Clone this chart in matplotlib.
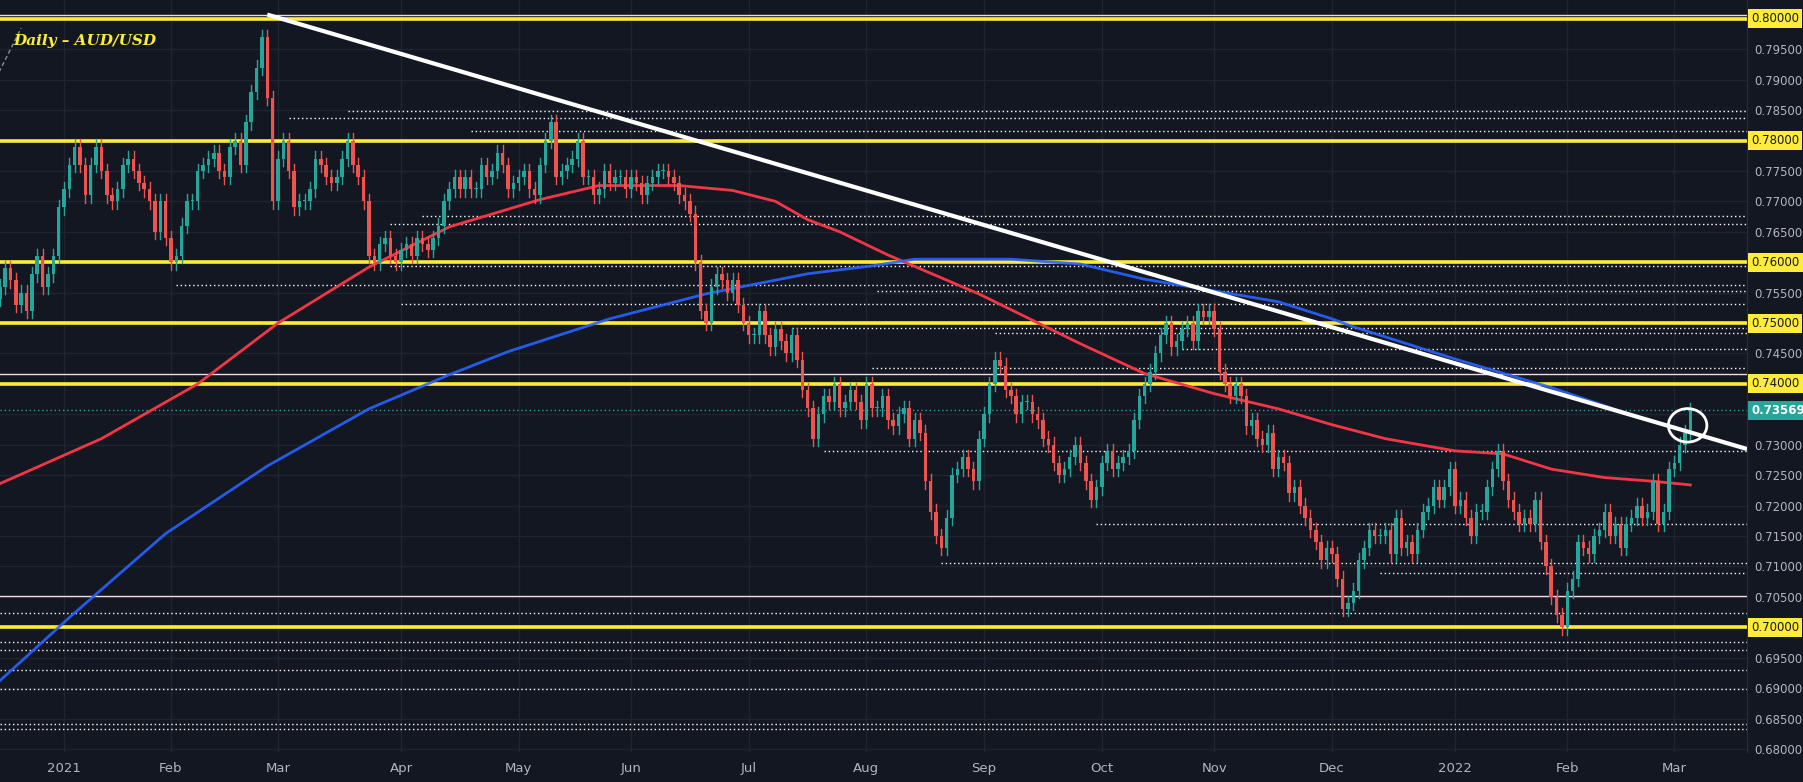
import numpy as np
import pandas as pd
import matplotlib
matplotlib.use("Agg")
import matplotlib.pyplot as plt
from matplotlib.patches import Ellipse

# ---------------- data ----------------
holidays = ["2020-12-25", "2021-01-01"]
dec20 = [0.7560, 0.7590, 0.7570, 0.7530, 0.7550, 0.7520, 0.7580, 0.7610, 0.7560, 0.7580, 0.7610, 0.7690]
jan21 = [0.7720, 0.7760, 0.7790, 0.7760, 0.7710, 0.7760, 0.7790, 0.7750, 0.7710, 0.7700,
         0.7720, 0.7760, 0.7770, 0.7750, 0.7730, 0.7720, 0.7700, 0.7650, 0.7700, 0.7640]
feb21 = [0.7600, 0.7610, 0.7660, 0.7700, 0.7700, 0.7750, 0.7760, 0.7770, 0.7780, 0.7750,
         0.7740, 0.7790, 0.7800, 0.7760, 0.7830, 0.7880, 0.7920, 0.7970, 0.7870, 0.7700]
mar21 = [0.7770, 0.7800, 0.7750, 0.7690, 0.7700, 0.7700, 0.7720, 0.7770, 0.7760, 0.7740, 0.7730, 0.7740,
         0.7770, 0.7800, 0.7760, 0.7740, 0.7700, 0.7610, 0.7600, 0.7630, 0.7640, 0.7610, 0.7600]
apr21 = [0.7620, 0.7630, 0.7610, 0.7640, 0.7630, 0.7620, 0.7640, 0.7660, 0.7700, 0.7720, 0.7740,
         0.7720, 0.7740, 0.7720, 0.7720, 0.7760, 0.7740, 0.7750, 0.7780, 0.7760, 0.7720, 0.7730]
may21 = [0.7740, 0.7750, 0.7720, 0.7710, 0.7760, 0.7800, 0.7830, 0.7740, 0.7750, 0.7760, 0.7770,
         0.7800, 0.7740, 0.7740, 0.7710, 0.7720, 0.7750, 0.7730, 0.7740, 0.7740, 0.7720]
jun21 = [0.7740, 0.7730, 0.7710, 0.7730, 0.7740, 0.7750, 0.7750, 0.7740, 0.7730, 0.7710, 0.7700,
         0.7680, 0.7600, 0.7520, 0.7500, 0.7560, 0.7580, 0.7570, 0.7550, 0.7570, 0.7530, 0.7500]
jul21 = [0.7480, 0.7480, 0.7520, 0.7480, 0.7460, 0.7490, 0.7470, 0.7450, 0.7480, 0.7440, 0.7390,
         0.7360, 0.7310, 0.7350, 0.7380, 0.7370, 0.7400, 0.7360, 0.7370, 0.7390, 0.7370, 0.7340]
aug21 = [0.7400, 0.7360, 0.7360, 0.7380, 0.7340, 0.7330, 0.7350, 0.7360, 0.7310, 0.7340, 0.7320,
         0.7240, 0.7190, 0.7150, 0.7130, 0.7180, 0.7250, 0.7260, 0.7280, 0.7260, 0.7240, 0.7310]
sep21 = [0.7350, 0.7400, 0.7440, 0.7430, 0.7390, 0.7380, 0.7350, 0.7370, 0.7370, 0.7350, 0.7340,
         0.7310, 0.7300, 0.7270, 0.7250, 0.7260, 0.7280, 0.7300, 0.7270, 0.7240, 0.7210, 0.7230]
oct21 = [0.7270, 0.7290, 0.7260, 0.7270, 0.7280, 0.7290, 0.7340, 0.7380, 0.7400, 0.7420, 0.7450,
         0.7480, 0.7500, 0.7460, 0.7470, 0.7490, 0.7500, 0.7470, 0.7520, 0.7510, 0.7520]
nov21 = [0.7490, 0.7420, 0.7400, 0.7380, 0.7400, 0.7380, 0.7330, 0.7340, 0.7310, 0.7300, 0.7320,
         0.7260, 0.7280, 0.7270, 0.7220, 0.7230, 0.7200, 0.7180, 0.7160, 0.7140, 0.7110, 0.7130]
dec21 = [0.7120, 0.7080, 0.7030, 0.7040, 0.7060, 0.7110, 0.7130, 0.7160, 0.7150, 0.7150, 0.7160, 0.7120,
         0.7180, 0.7130, 0.7140, 0.7120, 0.7160, 0.7190, 0.7200, 0.7230, 0.7210, 0.7230, 0.7260]
jan22 = [0.7200, 0.7210, 0.7180, 0.7150, 0.7190, 0.7190, 0.7230, 0.7260, 0.7290, 0.7240, 0.7210,
         0.7190, 0.7170, 0.7180, 0.7170, 0.7210, 0.7140, 0.7100, 0.7050, 0.7020, 0.7000]
feb22 = [0.7060, 0.7080, 0.7140, 0.7130, 0.7120, 0.7150, 0.7160, 0.7190, 0.7150, 0.7170,
         0.7130, 0.7170, 0.7180, 0.7200, 0.7180, 0.7190, 0.7240, 0.7170, 0.7190, 0.7260]
mar22 = [0.7270, 0.7300, 0.7320, 0.73569]
first_open = 0.7540

# moving averages (bar index, value)
ma_red_bars = [0, 19, 37, 52, 69, 84, 101, 112, 127, 137, 145, 151, 157, 166, 183, 202, 214, 227, 239, 249, 259, 272, 281, 290, 300, 309, 316]
ma_red_vals = [0.7236, 0.7310, 0.7400, 0.7500, 0.7592, 0.7658, 0.7703, 0.7726, 0.7726, 0.7718, 0.7700, 0.7670, 0.7650,
               0.7612, 0.7548, 0.7466, 0.7417, 0.7384, 0.7359, 0.7333, 0.7310, 0.7290, 0.7285, 0.7260, 0.7246, 0.7240, 0.7234]
ma_blue_bars = [0, 13, 31, 50, 69, 84, 95, 114, 132, 151, 163, 171, 189, 202, 214, 227, 239, 249, 253, 272, 290, 303, 306]
ma_blue_vals = [0.6912, 0.7016, 0.7154, 0.7265, 0.7359, 0.7415, 0.7453, 0.7507, 0.7548, 0.7581, 0.7594, 0.7605, 0.7605,
                0.7597, 0.7572, 0.7553, 0.7535, 0.7507, 0.7494, 0.7441, 0.7394, 0.7355, 0.7345]
trend_bars = [50, 326.6]
trend_vals = [0.8007, 0.7293]

yellow_levels = [0.80, 0.78, 0.76, 0.75, 0.74, 0.70]
thin_levels = [0.8006, 0.7417, 0.7052]
dotted_levels = [0.7849, 0.7837, 0.7816, 0.7676, 0.7663, 0.7594, 0.7563, 0.7553, 0.7532, 0.7492, 0.7484,
                 0.7458, 0.7426, 0.7290, 0.7169, 0.7106, 0.7090, 0.7024, 0.6976, 0.6963, 0.6930, 0.6899, 0.6841, 0.6832]
dotted_start = [65, 54, 88, 79, 73, 73, 33, 164, 75, 148, 186, 221, 163, 154, 205, 176, 258, 0, 0, 0, 0, 0, 0, 0]
last_price = 0.73569

# ---------------- build ----------------
closes = np.array(dec20 + jan21 + feb21 + mar21 + apr21 + may21 + jun21 + jul21 + aug21 + sep21 +
                  oct21 + nov21 + dec21 + jan22 + feb22 + mar22)
dates = pd.bdate_range("2020-12-15", "2022-03-04")
dates = dates[~dates.isin(pd.to_datetime(holidays))][:len(closes)]
opens = np.concatenate([[first_open], closes[:-1]])
idx = np.arange(len(closes))

BG = "#131722"
UP, DN = "#26a69a", "#ef5350"
TXT = "#b2b5be"
FS = 8.5

W, H = 1803, 782
fig = plt.figure(figsize=(W / 100, H / 100), dpi=100, facecolor=BG)
ax = fig.add_axes([0, 30 / H, 1747 / W, 1 - 30 / H], facecolor=BG)
ax.set_xlim(0.04, 326.6)
ax.set_ylim(0.6795, 0.8031)

ticks = np.round(np.arange(0.68, 0.8001, 0.005), 3)
for t in ticks:
    ax.axhline(t, color="#1f2430", lw=1, zorder=0)
months = pd.Series(idx, index=dates).groupby([dates.year, dates.month]).first()
mlabels = []
for (yr, mo), i in months.items():
    if yr == 2020:
        continue
    ax.axvline(i, color="#1f2430", lw=1, zorder=0)
    lab = str(yr) if mo == 1 else pd.Timestamp(year=yr, month=mo, day=1).strftime("%b")
    mlabels.append((i, lab))

for lv, s in zip(dotted_levels, dotted_start):
    ax.plot([s, 326.6], [lv, lv], color="white", lw=1, ls=(0, (1, 2)), zorder=1)
for lv in thin_levels:
    ax.axhline(lv, color="#f3d9dc", lw=1, zorder=1)
for lv in yellow_levels:
    ax.axhline(lv, color="#ffeb3b", lw=2.6, zorder=2)
ax.axhline(last_price, color=UP, lw=1, ls=(0, (1, 2)), zorder=1)

ax.plot(ma_red_bars, ma_red_vals, color="#f23645", lw=2, zorder=3)
ax.plot(ma_blue_bars, ma_blue_vals, color="#2962ff", lw=2, zorder=3, alpha=0.9)

pad = 0.0012
for i, o, c in zip(idx, opens, closes):
    col = UP if c >= o else DN
    hi, lo = max(o, c) + pad, min(o, c) - pad
    ax.plot([i, i], [lo, hi], color=col, lw=1, zorder=4)
    ax.bar(i, max(abs(c - o), 0.0002), bottom=min(o, c), width=0.65, color=col, zorder=5, linewidth=0)

ax.plot(trend_bars, trend_vals, color="white", lw=3, zorder=6, solid_capstyle="butt")
ax.add_patch(Ellipse((idx[-1] - 0.5, last_price - 0.0025), 7.2, 0.0055, fill=False, ec="white", lw=2, zorder=7))
ax.plot([-2, 4], [0.7880, 0.7985], color="#8a8e99", lw=1, ls=(0, (3, 2)), zorder=6)

ax.text(2.5, 0.7957, "Daily – AUD/USD", color="#ffeb3b", fontsize=11, fontstyle="italic",
        fontweight="bold", family="DejaVu Serif", zorder=8)

for sp in ax.spines.values():
    sp.set_visible(False)
ax.spines["right"].set_visible(True)
ax.spines["right"].set_color("#2a2e39")
ax.yaxis.tick_right()
hidden = list(yellow_levels) + [0.735]
ax.set_yticks(ticks)
ax.set_yticklabels(["" if any(abs(t - h) < 1e-6 for h in hidden) else f"{t:.5f}" for t in ticks],
                   color=TXT, fontsize=FS)
ax.tick_params(axis="y", length=0, pad=5)
ax.set_xticks([m[0] for m in mlabels])
ax.set_xticklabels([m[1] for m in mlabels], color=TXT, fontsize=9.5)
ax.tick_params(axis="x", length=0, pad=7)

for lv in yellow_levels:
    ax.text(1.0025, lv, f"{lv:.5f}", transform=ax.get_yaxis_transform(), ha="left", va="center",
            fontsize=FS, color="#131722", zorder=10,
            bbox=dict(boxstyle="square,pad=0.25", fc="#ffeb3b", ec="none"))
ax.text(1.0025, last_price, f"{last_price:.5f}", transform=ax.get_yaxis_transform(), ha="left", va="center",
        fontsize=FS, color="white", fontweight="bold", zorder=10,
        bbox=dict(boxstyle="square,pad=0.25", fc=UP, ec="none"))

fig.savefig("out.png", dpi=100, facecolor=BG)
